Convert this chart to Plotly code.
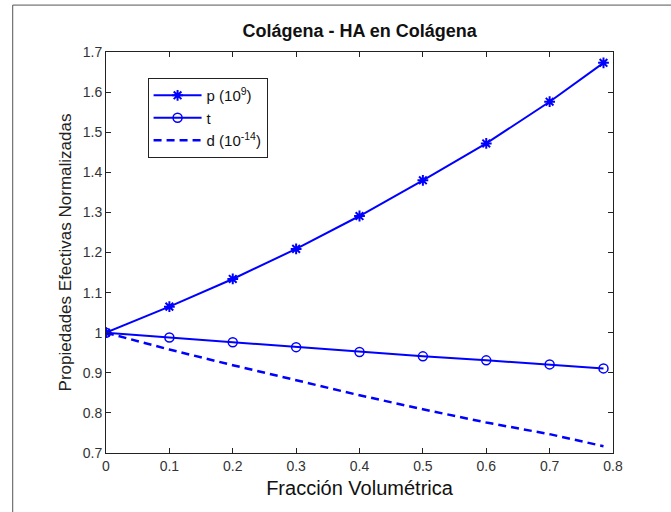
import plotly.graph_objects as go

x_vals = [0, 0.1, 0.2, 0.3, 0.4, 0.5, 0.6, 0.7, 0.785]
p_vals = [1.0, 1.065, 1.134, 1.209, 1.291, 1.38, 1.472, 1.576, 1.673]
t_vals = [1.0, 0.988, 0.976, 0.964, 0.952, 0.941, 0.931, 0.921, 0.911]
d_vals = [1.0, 0.958, 0.919, 0.882, 0.844, 0.809, 0.776, 0.747, 0.717]

names = ["p (10<sup>9</sup>)", "t", "d (10<sup>-14</sup>)"]
title = "<b>Colágena - HA en Colágena</b>"
xlabel = "Fracción Volumétrica"
ylabel = "Propiedades Efectivas Normalizadas"
x_ticks = [0, 0.1, 0.2, 0.3, 0.4, 0.5, 0.6, 0.7, 0.8]
x_ticktext = ["0", "0.1", "0.2", "0.3", "0.4", "0.5", "0.6", "0.7", "0.8"]
y_ticks = [0.7, 0.8, 0.9, 1.0, 1.1, 1.2, 1.3, 1.4, 1.5, 1.6, 1.7]
y_ticktext = ["0.7", "0.8", "0.9", "1", "1.1", "1.2", "1.3", "1.4", "1.5", "1.6", "1.7"]

BLUE = "#0000FF"
FONT = "Liberation Sans, Arial, sans-serif"

fig = go.Figure()
fig.add_trace(go.Scatter(
    x=x_vals, y=p_vals, name=names[0], mode="lines+markers",
    line=dict(color=BLUE, width=2),
    marker=dict(symbol="asterisk-open", size=9, color=BLUE, line=dict(color=BLUE, width=2)),
))
fig.add_trace(go.Scatter(
    x=x_vals, y=t_vals, name=names[1], mode="lines+markers",
    line=dict(color=BLUE, width=2),
    marker=dict(symbol="circle-open", size=9, color=BLUE, line=dict(color=BLUE, width=1.5)),
))
fig.add_trace(go.Scatter(
    x=x_vals, y=d_vals, name=names[2], mode="lines",
    line=dict(color=BLUE, width=2.5, dash="8px,5px"),
))

axis_common = dict(
    showgrid=False, zeroline=False, showline=True, linecolor="#222222", linewidth=1,
    mirror="ticks", ticks="inside", ticklen=5, tickcolor="#222222", tickwidth=1,
    tickfont=dict(family=FONT, size=14, color="#333333"),
)

fig.update_layout(
    width=671, height=512,
    margin=dict(l=105.5, r=57.5, t=52, b=59),
    paper_bgcolor="white", plot_bgcolor="white",
    title=dict(text=title, x=0.536, xanchor="center", y=0.94, yanchor="middle",
               font=dict(family=FONT, size=18, color="#111111")),
    xaxis=dict(range=[0, 0.8], tickvals=x_ticks, ticktext=x_ticktext,
               title=dict(text=xlabel, font=dict(family=FONT, size=20, color="#111111"), standoff=8),
               **axis_common),
    yaxis=dict(range=[0.7, 1.7], tickvals=y_ticks, ticktext=y_ticktext,
               title=dict(text=ylabel, font=dict(family=FONT, size=17, color="#222222"), standoff=6),
               **axis_common),
    showlegend=True,
    legend=dict(x=0.082, y=0.935, xanchor="left", yanchor="top",
                bgcolor="white", bordercolor="#222222", borderwidth=1,
                font=dict(family=FONT, size=15, color="#111111"),
                tracegroupgap=0, itemwidth=48),
    shapes=[dict(type="rect", xref="paper", yref="paper",
                 x0=-0.184, x1=3, y0=-3, y1=1.117,
                 line=dict(color="#555555", width=1), fillcolor="rgba(0,0,0,0)", layer="below")],
)

fig.write_html("out.html")
